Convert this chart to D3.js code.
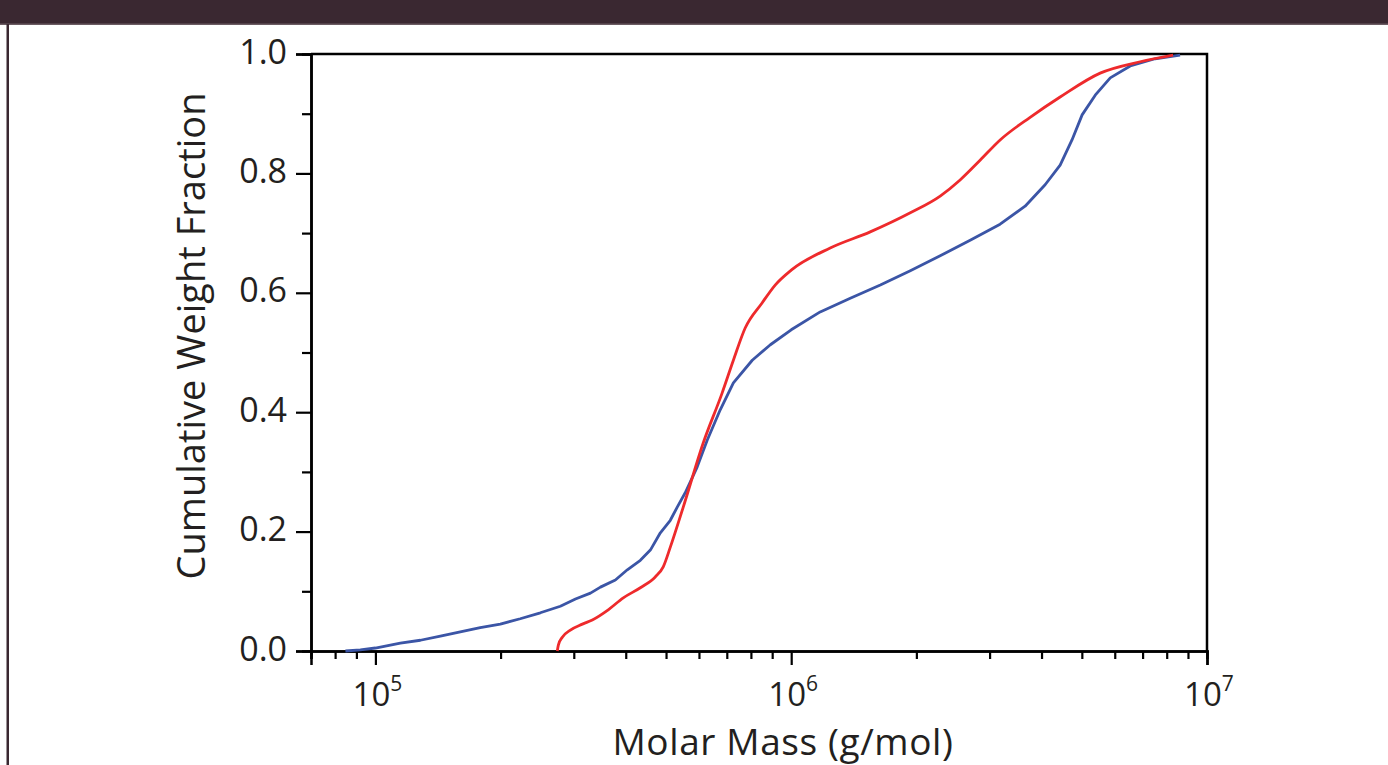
<!DOCTYPE html>
<html>
<head>
<meta charset="utf-8">
<script src="https://cdn.jsdelivr.net/npm/d3@7"></script>
<style>
  html, body { margin: 0; padding: 0; background: #fff; }
  svg { display: block; font-family: "Open Sans", sans-serif; }
</style>
</head>
<body>
<svg id="chart" width="1388" height="765"></svg>
<script>
// cumulative weight fraction vs molar mass
const blueMass = [84700, 92000, 100000, 114800, 128300, 143300, 160000, 178700, 199700, 223000,
  249300, 278500, 302800, 329000, 347700, 377700, 403500, 433700, 458400, 484500,
  512000, 532000, 556000, 594000, 628000, 675000, 726000, 806000, 891000, 1000000,
  1174000, 1387000, 1638000, 1934000, 2282000, 2694000, 3180000, 3652000, 4080000, 4434000,
  4735000, 5008000, 5385000, 5852000, 6537000, 7500000, 8615000];
const blueFrac = [0, 0.002, 0.005, 0.013, 0.018, 0.025, 0.032, 0.039, 0.045, 0.054,
  0.064, 0.075, 0.087, 0.097, 0.107, 0.119, 0.136, 0.152, 0.169, 0.198,
  0.219, 0.241, 0.265, 0.308, 0.353, 0.404, 0.449, 0.487, 0.513, 0.538,
  0.568, 0.591, 0.613, 0.637, 0.662, 0.688, 0.715, 0.745, 0.781, 0.814,
  0.856, 0.898, 0.931, 0.960, 0.980, 0.992, 0.998];

const redMass = [273800, 275400, 281500, 294400, 314600, 332400, 363000, 394600, 433700, 471000,
  492300, 512000, 550000, 614000, 682000, 726000, 775000, 851000, 915000, 1000000,
  1241000, 1549000, 1934000, 2282000, 2548000, 2846000, 3180000, 3755000, 4434000, 5534000,
  6906000, 8288000];
const redFrac = [0, 0.010, 0.023, 0.035, 0.045, 0.052, 0.069, 0.089, 0.106, 0.124,
  0.141, 0.174, 0.241, 0.348, 0.432, 0.487, 0.541, 0.583, 0.613, 0.638,
  0.675, 0.702, 0.734, 0.762, 0.789, 0.822, 0.856, 0.894, 0.928, 0.968,
  0.987, 0.998];

const xMajor = [1e5, 1e6, 1e7];
const xMajorExp = ["5", "6", "7"];
const xMinor = [7e4, 8e4, 9e4, 2e5, 3e5, 4e5, 5e5, 6e5, 7e5, 8e5, 9e5,
  2e6, 3e6, 4e6, 5e6, 6e6, 7e6, 8e6, 9e6];
const yMajor = [0, 0.2, 0.4, 0.6, 0.8, 1.0];
const yMinor = [0.1, 0.3, 0.5, 0.7, 0.9];

const svg = d3.select("#chart");
const W = 1388, H = 765;
const plot = {left: 311, right: 1207, top: 54, bottom: 651};
const ink = "#231f20";

// page frame: dark band at top and a rule down the left
svg.append("rect").attr("x", 0).attr("y", 0).attr("width", W).attr("height", 24).attr("fill", "#3a2831");
svg.append("rect").attr("x", 0).attr("y", 23.5).attr("width", W).attr("height", 1.5).attr("fill", "#6b5b62");
svg.append("rect").attr("x", 6.5).attr("y", 24).attr("width", 2.5).attr("height", H - 24).attr("fill", "#3a2831");

const x = d3.scaleLog().domain([7e4, 1e7]).range([plot.left, plot.right]);
const y = d3.scaleLinear().domain([0, 1]).range([plot.bottom, plot.top]);

// frame (top + right)
svg.append("path")
  .attr("d", `M${plot.left},${plot.top}H${plot.right}V${plot.bottom}`)
  .attr("fill", "none").attr("stroke", "#000").attr("stroke-width", 2.5);

// x axis
const gxMinor = svg.append("g").attr("transform", `translate(0,${plot.bottom})`)
  .call(d3.axisBottom(x).tickValues(xMinor).tickSize(8).tickFormat(""));
const gx = svg.append("g").attr("transform", `translate(0,${plot.bottom})`)
  .call(d3.axisBottom(x).tickValues(xMajor).tickSize(14).tickFormat(""));

// y axis
const gyMinor = svg.append("g").attr("transform", `translate(${plot.left},0)`)
  .call(d3.axisLeft(y).tickValues(yMinor).tickSize(9).tickFormat(""));
const gy = svg.append("g").attr("transform", `translate(${plot.left},0)`)
  .call(d3.axisLeft(y).tickValues(yMajor).tickSize(15).tickPadding(9).tickFormat(d3.format(".1f")));

[gxMinor, gx, gyMinor, gy].forEach(g => {
  g.select(".domain").attr("stroke", "#000").attr("stroke-width", 2.5);
  g.selectAll(".tick line").attr("stroke", "#000").attr("stroke-width", 2.2);
});
gy.selectAll(".tick text")
  .attr("font-size", 34).attr("font-family", "'Open Sans', sans-serif")
  .attr("fill", ink).attr("dy", "0.27em");

// power-of-ten labels
const xLab = svg.append("g");
xMajor.forEach((v, i) => {
  const t = xLab.append("text")
    .attr("x", x(v) + 2).attr("y", 706)
    .attr("text-anchor", "middle")
    .attr("font-size", 33).attr("fill", ink);
  t.append("tspan").text("10");
  t.append("tspan").attr("dy", -15).attr("font-size", 21).text(xMajorExp[i]);
});

// axis titles
svg.append("text")
  .attr("x", 783).attr("y", 755)
  .attr("text-anchor", "middle")
  .attr("font-size", 37).attr("letter-spacing", 0.6).attr("fill", ink)
  .text("Molar Mass (g/mol)");

svg.append("text")
  .attr("transform", "translate(205,336) rotate(-90)")
  .attr("text-anchor", "middle")
  .attr("font-size", 38).attr("fill", ink)
  .text("Cumulative Weight Fraction");

// curves
const blue = blueMass.map((m, i) => ({m: m, f: blueFrac[i]}));
const red = redMass.map((m, i) => ({m: m, f: redFrac[i]}));

svg.append("path").datum(blue)
  .attr("fill", "none").attr("stroke", "#3b55a6").attr("stroke-width", 2.8)
  .attr("stroke-linejoin", "round")
  .attr("d", d3.line().x(d => x(d.m)).y(d => y(d.f)));

svg.append("path").datum(red)
  .attr("fill", "none").attr("stroke", "#ee2a2c").attr("stroke-width", 2.8)
  .attr("d", d3.line().curve(d3.curveMonotoneX).x(d => x(d.m)).y(d => y(d.f)));
</script>
</body>
</html>
